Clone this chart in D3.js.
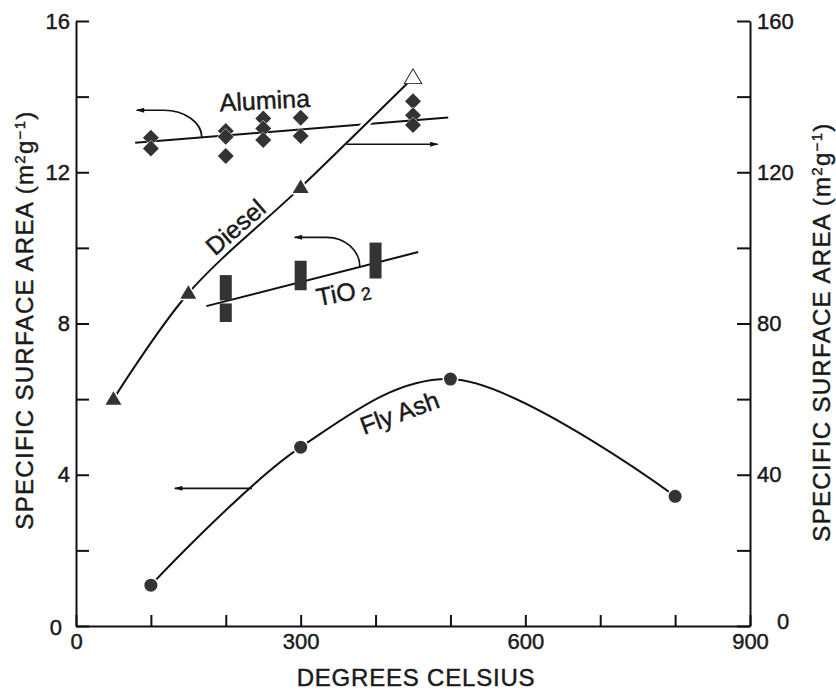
<!DOCTYPE html>
<html>
<head>
<meta charset="utf-8">
<script src="https://cdn.jsdelivr.net/npm/d3@7"></script>
<style>
  body { margin: 0; background: #fff; }
  text { font-family: "Liberation Sans", Arial, Helvetica, sans-serif; fill: #1a1a1a; stroke: #1a1a1a; stroke-width: 0.45px; }
</style>
</head>
<body>
<div id="chart"></div>
<script>
// Data
// Fly ash (left axis, m2/g)
var flyAshTemp = [100, 300, 500, 800];
var flyAshArea = [1.08, 4.73, 6.53, 3.43];

// Diesel (right axis, m2/g), last point drawn open
var dieselTemp = [50, 150, 300, 450];
var dieselArea = [60, 88, 116, 145];
var dieselOpen = [false, false, false, true];

// Alumina replicates (left axis) and its fitted line
var aluminaTemp = [100, 100, 200, 200, 200, 250, 250, 250, 300, 300, 450, 450, 450];
var aluminaArea = [12.91, 12.63, 13.09, 12.94, 12.43, 13.42, 13.16, 12.85, 13.44, 12.96, 13.88, 13.51, 13.25];
var aluminaFitTemp = [79, 497];
var aluminaFitArea = [12.78, 13.45];

// TiO2 ranges (left axis) and its fitted line
var tio2Temp = [200, 200, 300, 400];
var tio2Low = [8.04, 8.61, 8.88, 9.19];
var tio2High = [8.53, 9.28, 9.66, 10.14];
var tio2FitTemp = [174, 457];
var tio2FitArea = [8.46, 9.89];

// Ticks
var xTicks = [0, 100, 200, 300, 400, 500, 600, 700, 800, 900];
var leftTicks = [0, 2, 4, 6, 8, 10, 12, 14, 16];
var rightTicks = [0, 20, 40, 60, 80, 100, 120, 140, 160];

// Chart Params
var svgWidth = 836;
var svgHeight = 692;
var margin = { top: 21, right: 86, bottom: 66, left: 76 };
var width = svgWidth - margin.left - margin.right;
var height = svgHeight - margin.top - margin.bottom;

var svg = d3.select("#chart")
  .append("svg")
  .attr("width", svgWidth)
  .attr("height", svgHeight);

// arrow head
svg.append("defs").append("marker")
  .attr("id", "head")
  .attr("viewBox", "0 0 10 6")
  .attr("refX", 9)
  .attr("refY", 3)
  .attr("markerWidth", 11)
  .attr("markerHeight", 5)
  .attr("markerUnits", "userSpaceOnUse")
  .attr("orient", "auto")
  .append("path")
  .attr("d", "M0,0L10,3L0,6Z")
  .attr("fill", "#111");

var chartGroup = svg.append("g")
  .attr("transform", `translate(${margin.left}, ${margin.top})`);

// scales
var xScale = d3.scaleLinear().domain([0, 900]).range([0, width]);
var yLeft = d3.scaleLinear().domain([0, 16]).range([height, 0]);
var yRight = d3.scaleLinear().domain([0, 160]).range([height, 0]);

// axes
var xAxis = d3.axisBottom(xScale)
  .tickValues(xTicks)
  .tickSize(-11)
  .tickSizeOuter(0)
  .tickPadding(7)
  .tickFormat(d => d % 300 === 0 ? d : "");

var leftAxis = d3.axisLeft(yLeft)
  .tickValues(leftTicks)
  .tickSize(-13)
  .tickSizeOuter(0)
  .tickPadding(6)
  .tickFormat(d => d % 4 === 0 ? d : "");

var rightAxis = d3.axisRight(yRight)
  .tickValues(rightTicks)
  .tickSize(-13)
  .tickSizeOuter(0)
  .tickPadding(7)
  .tickFormat(d => d % 40 === 0 ? d : "");

var gx = chartGroup.append("g")
  .attr("transform", `translate(0, ${height})`)
  .call(xAxis);
gx.selectAll(".tick text").style("font-size", "22px");

var gl = chartGroup.append("g").call(leftAxis);
gl.selectAll(".tick text").style("font-size", "22px");
gl.selectAll(".tick text").filter(d => d === 0).attr("x", -14).attr("dy", "0.4em");

var gr = chartGroup.append("g")
  .attr("transform", `translate(${width}, 0)`)
  .call(rightAxis);
gr.selectAll(".tick text").style("font-size", "22px");
gr.selectAll(".tick text").filter(d => d === 0).attr("x", 27).attr("dy", "0.1em");

chartGroup.selectAll(".domain, .tick line")
  .attr("stroke", "#111")
  .attr("stroke-width", 2);
chartGroup.selectAll(".tick text").attr("fill", "#1a1a1a");

// axis titles
function areaTitle(sel) {
  sel.append("tspan").text("SPECIFIC SURFACE AREA (m");
  sel.append("tspan").attr("baseline-shift", "super").style("font-size", "15px").text("2");
  sel.append("tspan").text("g");
  sel.append("tspan").attr("baseline-shift", "super").style("font-size", "15px").text("\u22121");
  sel.append("tspan").text(")");
}

svg.append("text")
  .attr("transform", "translate(33, 320) rotate(-90)")
  .attr("text-anchor", "middle")
  .style("font-size", "24px")
  .style("letter-spacing", "1.3px")
  .call(areaTitle);

svg.append("text")
  .attr("transform", "translate(830, 332) rotate(-90)")
  .attr("text-anchor", "middle")
  .style("font-size", "24px")
  .style("letter-spacing", "1.3px")
  .call(areaTitle);

svg.append("text")
  .attr("x", 416)
  .attr("y", 686)
  .attr("text-anchor", "middle")
  .style("font-size", "24px")
  .style("letter-spacing", "0.8px")
  .text("DEGREES CELSIUS");

var ink = "#111";
var markFill = "#333";
var lw = 2;

// straight fit lines
var aluminaLine = d3.line()
  .x((d, i) => xScale(aluminaFitTemp[i]))
  .y((d, i) => yLeft(aluminaFitArea[i]));
chartGroup.append("path")
  .attr("d", aluminaLine(aluminaFitTemp))
  .attr("fill", "none")
  .attr("stroke", ink)
  .attr("stroke-width", lw);

var tio2Line = d3.line()
  .x((d, i) => xScale(tio2FitTemp[i]))
  .y((d, i) => yLeft(tio2FitArea[i]));
chartGroup.append("path")
  .attr("d", tio2Line(tio2FitTemp))
  .attr("fill", "none")
  .attr("stroke", ink)
  .attr("stroke-width", lw);

// diesel curve, with a white casing so the alumina line breaks under it
var dieselPath = d3.line()
  .x((d, i) => xScale(dieselTemp[i]))
  .y((d, i) => yRight(dieselArea[i]))
  .curve(d3.curveCatmullRom.alpha(0.5));
chartGroup.append("path")
  .attr("d", dieselPath(dieselTemp))
  .attr("fill", "none")
  .attr("stroke", "#fff")
  .attr("stroke-width", 7);
chartGroup.append("path")
  .attr("d", dieselPath(dieselTemp))
  .attr("fill", "none")
  .attr("stroke", ink)
  .attr("stroke-width", lw);

// fly ash curve
var flyAshPath = d3.line()
  .x((d, i) => xScale(flyAshTemp[i]))
  .y((d, i) => yLeft(flyAshArea[i]))
  .curve(d3.curveCatmullRom.alpha(0.5));
chartGroup.append("path")
  .attr("d", flyAshPath(flyAshTemp))
  .attr("fill", "none")
  .attr("stroke", ink)
  .attr("stroke-width", lw);

// arrows pointing to the axis each series uses
function straightArrow(t0, t1, v, yS) {
  chartGroup.append("path")
    .attr("d", `M${xScale(t0)},${yS(v)}L${xScale(t1)},${yS(v)}`)
    .attr("fill", "none")
    .attr("stroke", ink)
    .attr("stroke-width", 1.7)
    .attr("marker-end", "url(#head)");
}
function hookArrow(t0, v0, t1, v1, rx) {
  var sx = xScale(t0), sy = yLeft(v0), ex = xScale(t1), ey = yLeft(v1);
  chartGroup.append("path")
    .attr("d", `M${sx},${sy}A${rx},${sy - ey} 0 0 0 ${sx - rx},${ey}L${ex},${ey}`)
    .attr("fill", "none")
    .attr("stroke", ink)
    .attr("stroke-width", 1.7)
    .attr("marker-end", "url(#head)");
}
straightArrow(235, 132, 3.64, yLeft);      // fly ash -> left
straightArrow(361, 483, 127.4, yRight);    // diesel -> right
hookArrow(168, 12.92, 81, 13.64, 38);      // alumina -> left
hookArrow(379, 9.5, 292, 10.28, 33);       // TiO2 -> left

// markers
var diamond = "M0,-8L8,0L0,8L-8,0Z";
chartGroup.selectAll(".alumina")
  .data(aluminaTemp)
  .enter()
  .append("path")
  .attr("class", "alumina")
  .attr("d", diamond)
  .attr("transform", (d, i) => `translate(${xScale(d)}, ${yLeft(aluminaArea[i])})`)
  .attr("fill", markFill)
  .attr("stroke", "#fff")
  .attr("stroke-width", 1)
  .attr("paint-order", "stroke");

chartGroup.selectAll(".tio2")
  .data(tio2Temp)
  .enter()
  .append("rect")
  .attr("class", "tio2")
  .attr("x", d => xScale(d) - 6)
  .attr("y", (d, i) => yLeft(tio2High[i]))
  .attr("width", 12)
  .attr("height", (d, i) => yLeft(tio2Low[i]) - yLeft(tio2High[i]))
  .attr("fill", markFill);

var triangle = "M0,-8L8,5.5L-8,5.5Z";
chartGroup.selectAll(".diesel")
  .data(dieselTemp)
  .enter()
  .append("path")
  .attr("class", "diesel")
  .attr("d", triangle)
  .attr("transform", (d, i) => `translate(${xScale(d)}, ${yRight(dieselArea[i])})`)
  .attr("fill", (d, i) => dieselOpen[i] ? "#fff" : markFill)
  .attr("stroke", (d, i) => dieselOpen[i] ? ink : "#fff")
  .attr("stroke-width", (d, i) => dieselOpen[i] ? 1.7 : 3)
  .attr("paint-order", "stroke");

chartGroup.selectAll(".flyash")
  .data(flyAshTemp)
  .enter()
  .append("circle")
  .attr("class", "flyash")
  .attr("cx", d => xScale(d))
  .attr("cy", (d, i) => yLeft(flyAshArea[i]))
  .attr("r", 6.5)
  .attr("fill", markFill)
  .attr("stroke", "#fff")
  .attr("stroke-width", 3)
  .attr("paint-order", "stroke");

// series labels
function seriesLabel(t, v, angle, txt) {
  return chartGroup.append("text")
    .attr("transform", `translate(${xScale(t)}, ${yLeft(v)}) rotate(${angle})`)
    .attr("text-anchor", "middle")
    .attr("dy", "0.35em")
    .style("font-size", "25px")
    .text(txt);
}
seriesLabel(252, 13.9, -3, "Alumina");
seriesLabel(213, 10.55, -41, "Diesel");
seriesLabel(432, 5.64, -20, "Fly Ash");
var tioLabel = seriesLabel(357, 8.82, -11, "TiO");
tioLabel.append("tspan")
  .attr("dx", 5)
  .attr("dy", 3)
  .style("font-size", "18px")
  .text("2");
</script>
</body>
</html>
